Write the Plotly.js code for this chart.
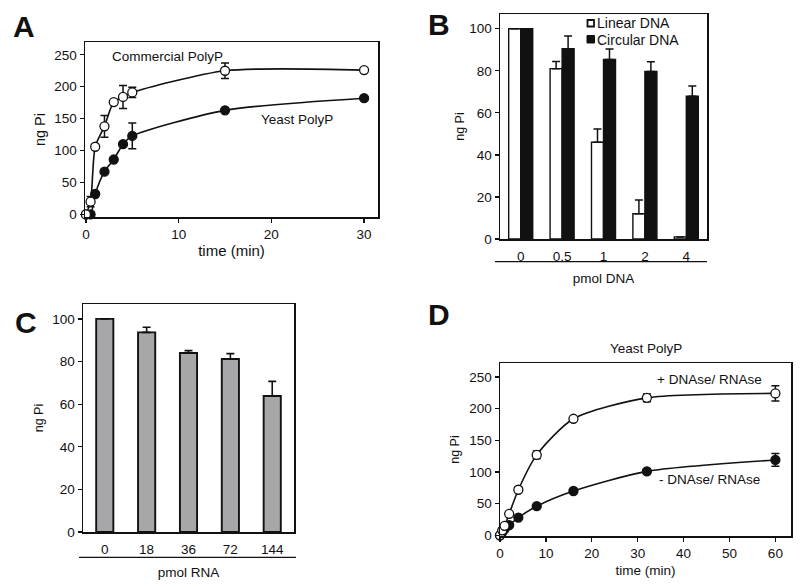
<!DOCTYPE html>
<html>
<head>
<meta charset="utf-8">
<script src="https://cdn.plot.ly/plotly-3.0.1.min.js"></script>
<style>html,body{margin:0;padding:0;background:#fff;}#chart{width:800px;height:587px;}</style>
</head>
<body>
<div id="chart"></div>
<script>
// Panel A: time course
const timeA = [0, 0.5, 1, 2, 3, 4, 5, 15, 30];
const commercialA = [0, 20, 106, 138, 176, 184, 191, 225, 226];
const commercialErrA = [0, 8, 0, 17, 0, 18, 8, 12, 0];
const yeastA = [0, 0, 32, 67, 86, 110, 123, 163, 182];
const yeastErrA = [0, 4, 0, 0, 0, 0, 20, 0, 0];

// Panel B: DNA
const dnaCats = ['0', '0.5', '1', '2', '4'];
const linearDNA = [100, 81, 46, 12, 1];
const linearErr = [0, 3.4, 6.3, 6.5, 0];
const circularDNA = [100, 90.5, 85.4, 79.7, 67.9];
const circularErr = [0, 6, 5, 4.6, 4.9];

// Panel C: RNA
const rnaCats = ['0', '18', '36', '72', '144'];
const rnaVals = [100, 93.7, 84.0, 81.2, 63.8];
const rnaErr = [0, 2.4, 1.1, 2.5, 6.9];

// Panel D: DNAse/RNAse
const timeD = [0, 0.5, 1, 2, 4, 8, 16, 32, 60];
const plusD = [0, 8, 15, 34, 72, 127, 184, 217, 224];
const plusErrD = [0, 0, 0, 0, 4, 6, 0, 6, 12];
const minusD = [0, 5, 10, 16, 28, 46, 70, 101, 119];
const minusErrD = [0, 0, 0, 0, 0, 0, 0, 4, 10];

const FONT = 'Liberation Sans, Arial, Helvetica, sans-serif';
const ink = '#111';

function lineTrace(x, y, err, fill, xa, ya, name) {
  return {
    type: 'scatter', mode: 'lines+markers', x: x, y: y, name: name,
    xaxis: xa, yaxis: ya, showlegend: false, cliponaxis: false,
    line: {color: ink, width: 1.6, shape: 'spline', smoothing: 0.7},
    marker: {size: 9, color: fill, line: {color: ink, width: 1.3}},
    error_y: {type: 'data', array: err, visible: true, color: ink, thickness: 1.5, width: 4}
  };
}
const zeros = [0, 0, 0, 0, 0];

const traces = [
  lineTrace(timeA, yeastA, yeastErrA, ink, 'x', 'y', 'Yeast PolyP'),
  lineTrace(timeA, commercialA, commercialErrA, '#fff', 'x', 'y', 'Commercial PolyP'),
  {
    type: 'bar', x: dnaCats, y: linearDNA, name: 'Linear DNA', xaxis: 'x2', yaxis: 'y2', showlegend: false,
    marker: {color: '#fff', line: {color: ink, width: 1.4}},
    error_y: {type: 'data', symmetric: false, array: linearErr, arrayminus: zeros, color: ink, thickness: 1.5, width: 4}
  },
  {
    type: 'bar', x: dnaCats, y: circularDNA, name: 'Circular DNA', xaxis: 'x2', yaxis: 'y2', showlegend: false,
    marker: {color: ink, line: {color: ink, width: 1.4}},
    error_y: {type: 'data', symmetric: false, array: circularErr, arrayminus: zeros, color: ink, thickness: 1.5, width: 4}
  },
  {
    type: 'bar', x: rnaCats, y: rnaVals, name: 'RNA', xaxis: 'x3', yaxis: 'y3', showlegend: false,
    width: 0.41,
    marker: {color: '#a7a7aa', line: {color: ink, width: 1.9}},
    error_y: {type: 'data', symmetric: false, array: rnaErr, arrayminus: zeros, color: ink, thickness: 1.6, width: 4}
  },
  lineTrace(timeD, minusD, minusErrD, ink, 'x4', 'y4', '- DNAse/ RNAse'),
  lineTrace(timeD, plusD, plusErrD, '#fff', 'x4', 'y4', '+ DNAse/ RNAse')
];

const W = 800, H = 587;
const dx = (a, b) => [a / W, b / W];
const dy = (top, bot) => [1 - bot / H, 1 - top / H];
const px = (v) => v / W, py = (v) => 1 - v / H;

const axBase = {
  showline: true, linecolor: ink, linewidth: 1.5, mirror: true,
  showgrid: false, zeroline: false,
  ticks: 'outside', ticklen: 4, tickwidth: 1.3, tickcolor: ink,
  tickfont: {family: FONT, size: 13.5, color: ink}
};
const tf = (s) => ({family: FONT, size: s, color: ink});

function ann(text, x, y, size, xref, yref, extra) {
  return Object.assign({text: text, x: x, y: y, xref: xref || 'paper', yref: yref || 'paper',
    showarrow: false, xanchor: 'center', yanchor: 'middle', font: tf(size)}, extra || {});
}

const layout = {
  width: W, height: H, margin: {l: 0, r: 0, t: 0, b: 0},
  paper_bgcolor: '#fff', plot_bgcolor: '#fff',
  font: {family: FONT, color: ink},
  barmode: 'group', bargap: 0.42, bargroupgap: 0,
  showlegend: false,
  xaxis: Object.assign({}, axBase, {domain: dx(85, 378), range: [-0.1, 31.5], tickvals: [0, 10, 20, 30], anchor: 'y',
    title: {text: 'time (min)', font: tf(15), standoff: 5}}),
  yaxis: Object.assign({}, axBase, {domain: dy(42, 217), range: [-4, 270], tickvals: [0, 50, 100, 150, 200, 250], anchor: 'x',
    title: {text: 'ng Pi', font: tf(14.5), standoff: 5}}),
  xaxis2: Object.assign({}, axBase, {domain: dx(500, 707), range: [-0.5, 4.5], type: 'category', anchor: 'y2', ticks: '',
    ticklabelstandoff: 4,
    title: {text: 'pmol DNA', font: tf(13.5), standoff: 11}}),
  yaxis2: Object.assign({}, axBase, {domain: dy(14, 239), range: [0, 107], tickvals: [0, 20, 40, 60, 80, 100], anchor: 'x2',
    title: {text: 'ng Pi', font: tf(12.5), standoff: 2}}),
  xaxis3: Object.assign({}, axBase, {domain: dx(83, 294), range: [-0.52, 4.52], type: 'category', anchor: 'y3', ticks: '',
    ticklabelstandoff: 4,
    title: {text: 'pmol RNA', font: tf(13.5), standoff: 12}}),
  yaxis3: Object.assign({}, axBase, {domain: dy(304, 532), range: [0, 107], tickvals: [0, 20, 40, 60, 80, 100], anchor: 'x3',
    title: {text: 'ng Pi', font: tf(12.5), standoff: 6}}),
  xaxis4: Object.assign({}, axBase, {domain: dx(500, 791), range: [0, 63.4], tickvals: [0, 10, 20, 30, 40, 50, 60], anchor: 'y4',
    title: {text: 'time (min)', font: tf(13.5), standoff: 6}}),
  yaxis4: Object.assign({}, axBase, {domain: dy(363, 536), range: [-1, 272], tickvals: [0, 50, 100, 150, 200, 250], anchor: 'x4',
    title: {text: 'ng Pi', font: tf(12.5), standoff: 7}}),
  shapes: [
    {type: 'line', xref: 'paper', yref: 'paper', x0: px(495), x1: px(707), y0: py(261.7), y1: py(261.7), line: {color: ink, width: 1.3}},
    {type: 'line', xref: 'paper', yref: 'paper', x0: px(79), x1: px(296), y0: py(557.3), y1: py(557.3), line: {color: ink, width: 1.3}},
    // legend swatches for panel B
    {type: 'rect', xref: 'paper', yref: 'paper', x0: px(587.5), x1: px(594), y0: py(26.5), y1: py(20), fillcolor: '#fff', line: {color: ink, width: 1.8}},
    {type: 'rect', xref: 'paper', yref: 'paper', x0: px(587), x1: px(594.5), y0: py(43), y1: py(35.5), fillcolor: ink, line: {color: ink, width: 1}}
  ],
  annotations: [
    ann('<b>A</b>', px(24), py(26), 30),
    ann('<b>B</b>', px(439), py(24), 30),
    ann('<b>C</b>', px(26), py(322), 30),
    ann('<b>D</b>', px(439), py(314), 30),
    ann('Commercial PolyP', 8.8, 247, 13.5, 'x', 'y'),
    ann('Yeast PolyP', 22.8, 149, 13.5, 'x', 'y'),
    ann('Linear DNA', px(595), py(23.5), 14, 'paper', 'paper', {xanchor: 'left'}),
    ann('Circular DNA', px(595), py(39.5), 14, 'paper', 'paper', {xanchor: 'left'}),
    ann('Yeast PolyP', px(646), py(348), 13.5),
    ann('+ DNAse/ RNAse', 45.7, 246, 13.5, 'x4', 'y4'),
    ann('- DNAse/ RNAse', 45.7, 88, 13.5, 'x4', 'y4')
  ]
};

Plotly.newPlot('chart', traces, layout, {displayModeBar: false, staticPlot: true});
</script>
</body>
</html>
